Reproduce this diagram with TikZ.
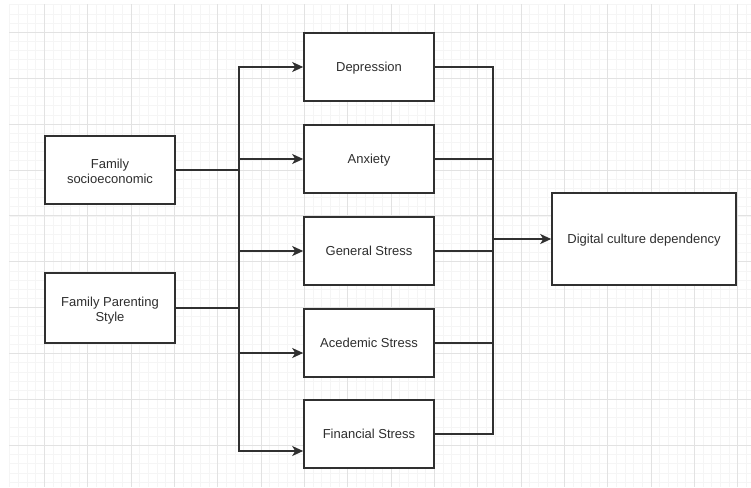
\documentclass[tikz,border=0pt]{standalone}
\usepackage{fontspec}
\setmainfont{Liberation Sans}
\usetikzlibrary{arrows.meta}
\definecolor{linec}{HTML}{303030}
\definecolor{textc}{HTML}{2E2E2E}
\definecolor{gridmajor}{HTML}{E2E2E2}
\definecolor{gridminor}{HTML}{F5F5F5}
\begin{document}
\begin{tikzpicture}[x=1pt,y=-1pt,
  box/.style={draw=linec, line width=1.6pt, fill=white, minimum width=130pt, minimum height=68pt,
    inner sep=0pt, align=center, font=\fontsize{13}{15}\selectfont, text=textc,
    execute at begin node={\rule{0pt}{11.5pt}},
    execute at end node={\rule[-3pt]{0pt}{3pt}}},
  box2/.style={box, execute at begin node={\rule{0pt}{30.4pt}}},
  conn/.style={draw=linec, line width=1.6pt, line cap=rect},
  arr/.style={draw=linec, line width=1.6pt, -{Stealth[length=11pt,width=10pt,inset=3pt]}}]
\useasboundingbox (0,0) rectangle (751,487);
\fill[white] (0,0) rectangle (751,487);
% grid
\begin{scope}
\clip (9,5) rectangle (751,487);
\foreach \i in {-4,...,81} {
  \draw[gridminor, line width=0.8pt] ({44.33+8.667*\i},0) -- ({44.33+8.667*\i},487);
}
\foreach \i in {-3,...,50} {
  \draw[gridminor, line width=0.8pt] (0,{32.3+9.18*\i}) -- (751,{32.3+9.18*\i});
}
\foreach \i in {0,...,16} {
  \draw[gridmajor, line width=0.9pt] ({44.33+43.33*\i},0) -- ({44.33+43.33*\i},487);
}
\foreach \i in {-1,...,10} {
  \draw[gridmajor, line width=0.9pt] (0,{32.3+45.9*\i}) -- (751,{32.3+45.9*\i});
}
\end{scope}
% nodes
\node[box2] (fs) at (110,170) {Family\\socioeconomic};
\node[box2, minimum height=70pt] (fp) at (110,308) {Family Parenting\\Style};
\node[box] (dep) at (369,67) {Depression};
\node[box] (anx) at (369,159) {Anxiety};
\node[box] (gen) at (369,251) {General Stress};
\node[box] (aca) at (369,343) {Acedemic Stress};
\node[box] (fin) at (369,434) {Financial Stress};
\node[box, minimum width=184pt, minimum height=92pt] (dig) at (644,239) {Digital culture dependency};
% left bus
\coordinate (bt) at (239,67);
\coordinate (bb) at (239,451);
\coordinate (ba) at (239,353);
\draw[conn] (bt) -- (bb);
\draw[conn] (fs.east) -- (fs.east -| bt);
\draw[conn] (fp.east) -- (fp.east -| bt);
\draw[arr] (bt) -- (dep.west);
\draw[arr] (bt |- anx.west) -- (anx.west);
\draw[arr] (bt |- gen.west) -- (gen.west);
\draw[arr] (ba) -- (aca.west |- ba);
\draw[arr] (bb) -- (fin.west |- bb);
% right bus
\coordinate (rt) at (493,67);
\coordinate (rb) at (493,434);
\coordinate (rm) at (493,239);
\draw[conn] (rt) -- (rb);
\draw[conn] (dep.east) -- (rt);
\draw[conn] (anx.east) -- (anx.east -| rt);
\draw[conn] (gen.east) -- (gen.east -| rt);
\draw[conn] (aca.east) -- (aca.east -| rt);
\draw[conn] (fin.east) -- (rb);
\draw[arr] (rm) -- (dig.west);
\end{tikzpicture}
\end{document}
